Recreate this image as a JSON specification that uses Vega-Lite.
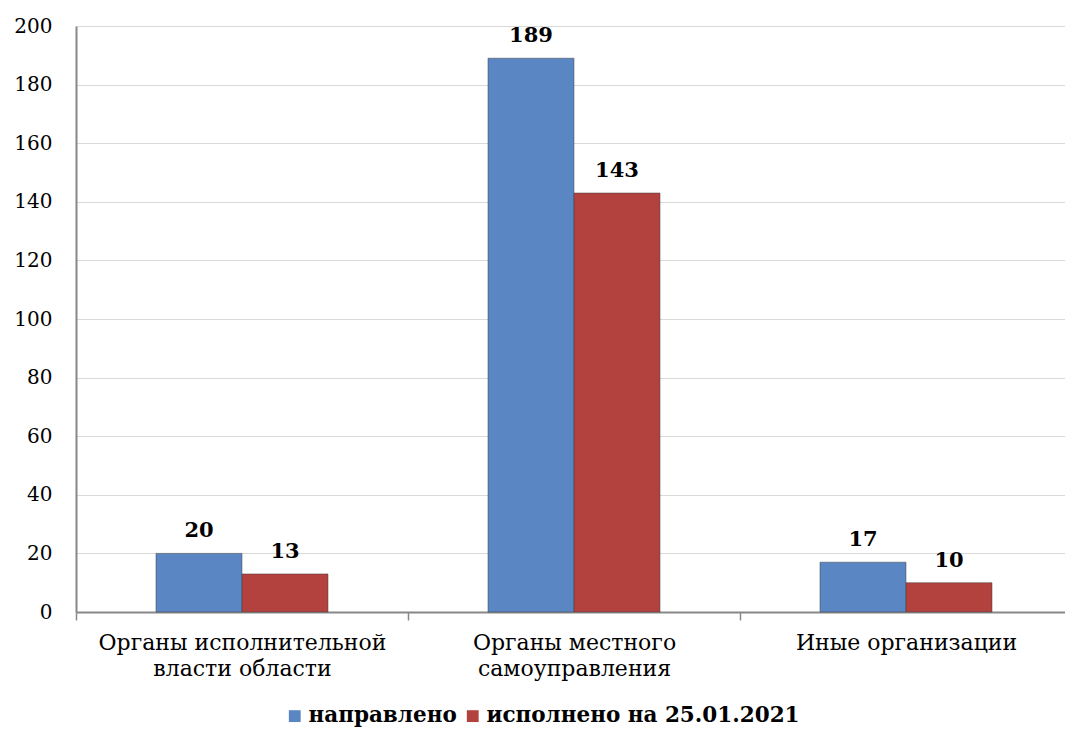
{
  "$schema": "https://vega.github.io/schema/vega-lite/v6.json",
  "autosize": "none",
  "width": 996,
  "height": 586,
  "padding": {"left": 76, "top": 26, "right": 0, "bottom": 130},
  "background": "white",
  "config": {
    "font": "DejaVu Serif",
    "view": {"stroke": null}
  },
  "data": {
    "values": [
      {"category": "Органы исполнительной|власти области", "series": "направлено", "value": 20},
      {"category": "Органы исполнительной|власти области", "series": "исполнено на 25.01.2021", "value": 13},
      {"category": "Органы местного|самоуправления", "series": "направлено", "value": 189},
      {"category": "Органы местного|самоуправления", "series": "исполнено на 25.01.2021", "value": 143},
      {"category": "Иные организации", "series": "направлено", "value": 17},
      {"category": "Иные организации", "series": "исполнено на 25.01.2021", "value": 10}
    ]
  },
  "encoding": {
    "x": {
      "field": "category",
      "type": "nominal",
      "sort": null,
      "scale": {"paddingInner": 0, "paddingOuter": 0},
      "axis": {
        "title": null,
        "labelAngle": 0,
        "labelExpr": "split(datum.label, '|')",
        "labelFont": "DejaVu Serif",
        "labelFontSize": 22,
        "labelColor": "#000000",
        "labelPadding": 12,
        "labelLineHeight": 26,
        "labelLimit": 400,
        "tickBand": "extent",
        "tickColor": "#888888",
        "tickSize": 8,
        "tickWidth": 1.5,
        "domainColor": "#888888",
        "domainWidth": 2,
        "grid": false
      }
    },
    "xOffset": {
      "field": "series",
      "type": "nominal",
      "sort": ["направлено", "исполнено на 25.01.2021"],
      "scale": {"paddingInner": 0, "paddingOuter": 0.93}
    },
    "y": {
      "field": "value",
      "type": "quantitative",
      "scale": {"domain": [0, 200]},
      "axis": {
        "title": null,
        "values": [0, 20, 40, 60, 80, 100, 120, 140, 160, 180, 200],
        "labelFont": "DejaVu Serif",
        "labelFontSize": 20,
        "labelColor": "#000000",
        "labelPadding": 24,
        "ticks": false,
        "domainColor": "#888888",
        "domainWidth": 2,
        "grid": true,
        "gridColor": "#d9d9d9",
        "gridWidth": 1
      }
    }
  },
  "layer": [
    {
      "mark": {"type": "bar", "stroke": "#3a3a3a", "strokeWidth": 0.8, "strokeOpacity": 0.6},
      "encoding": {
        "color": {
          "field": "series",
          "type": "nominal",
          "sort": ["направлено", "исполнено на 25.01.2021"],
          "scale": {"domain": ["направлено", "исполнено на 25.01.2021"], "range": ["#5b86c4", "#b3423f"]},
          "legend": {
            "title": null,
            "orient": "none",
            "direction": "horizontal",
            "legendX": 208,
            "legendY": 679,
            "symbolType": "square",
            "symbolSize": 140,
            "symbolStrokeWidth": 0,
            "labelFont": "DejaVu Serif",
            "labelFontSize": 21.5,
            "labelFontWeight": "bold",
            "labelColor": "#000000",
            "labelOffset": 3,
            "columnPadding": 5,
            "labelLimit": 400
          }
        }
      }
    },
    {
      "mark": {"type": "text", "baseline": "bottom", "dy": -12, "font": "DejaVu Serif", "fontSize": 21, "fontWeight": "bold", "color": "#000000"},
      "encoding": {
        "text": {"field": "value", "type": "quantitative"}
      }
    }
  ]
}
